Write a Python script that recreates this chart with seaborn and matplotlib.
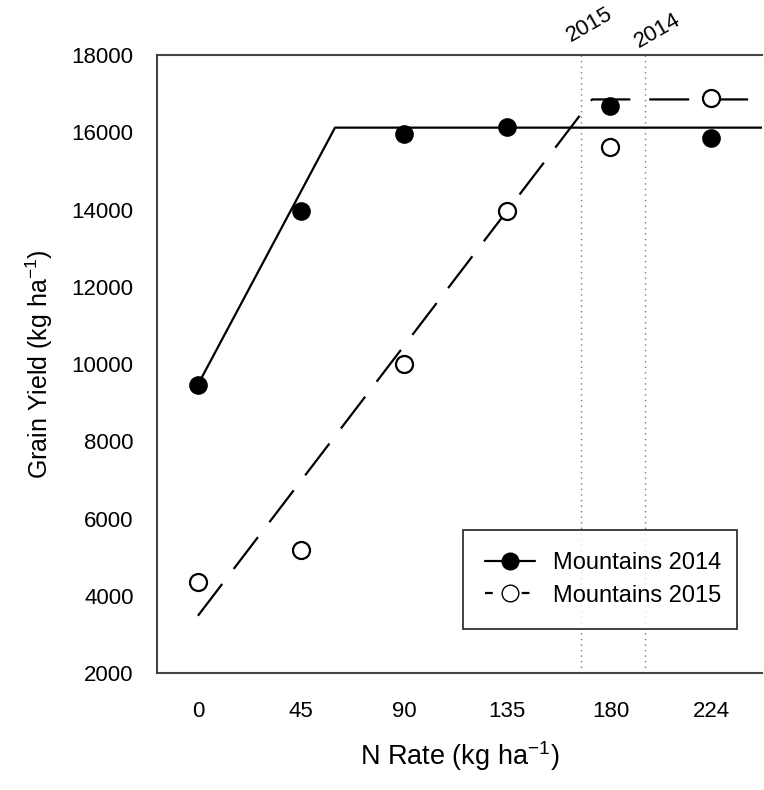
import matplotlib
matplotlib.use("Agg")
import matplotlib.pyplot as plt
import seaborn as sns
import pandas as pd
from matplotlib.lines import Line2D

# ---- data ----
n_rate = [0, 45, 90, 135, 180, 224]
yield_2014 = [9470, 13960, 15950, 16140, 16680, 15850]
yield_2015 = [4360, 5180, 10000, 13970, 15620, 16890]

fit_2014_x = [0, 59.8, 246]
fit_2014_y = [9470, 16120, 16120]
fit_2015_x = [0, 172, 246]
fit_2015_y = [3490, 16850, 16850]

vline_x = [167.3, 195.2]
vline_labels = ["2015", "2014"]

xticks = [0, 45, 90, 135, 180, 224]
yticks = [2000, 4000, 6000, 8000, 10000, 12000, 14000, 16000, 18000]

sns.set_theme(style="white")
plt.rcParams["font.family"] = ["Liberation Sans", "DejaVu Sans"]
plt.rcParams["mathtext.default"] = "regular"
plt.rcParams["text.color"] = "black"
plt.rcParams["axes.labelcolor"] = "black"

fig = plt.figure(figsize=(7.64, 7.90), dpi=100)
ax = fig.add_axes([0.2051, 0.1477, 0.7919, 0.7827])

spine_c = "#444444"

# vertical reference lines
for xv in vline_x:
    ax.axvline(xv, color="#777777", lw=1.0, ls=(0, (1, 3)), zorder=1)

df14 = pd.DataFrame({"x": fit_2014_x, "y": fit_2014_y})
df15 = pd.DataFrame({"x": fit_2015_x, "y": fit_2015_y})
sns.lineplot(data=df14, x="x", y="y", ax=ax, color="black", lw=1.6, zorder=2)
sns.lineplot(data=df15, x="x", y="y", ax=ax, color="black", lw=1.6, zorder=2)
ax.lines[-1].set_dashes((18, 8.5))

pts14 = pd.DataFrame({"x": n_rate, "y": yield_2014})
pts15 = pd.DataFrame({"x": n_rate, "y": yield_2015})
sns.scatterplot(data=pts14, x="x", y="y", ax=ax, s=150, color="black",
                edgecolor="black", linewidth=1.2, zorder=3)
sns.scatterplot(data=pts15, x="x", y="y", ax=ax, s=150, facecolor="white",
                edgecolor="black", linewidth=1.6, zorder=3)

ax.set_xlim(-18, 246)
ax.set_ylim(2000, 18000)
ax.set_xticks(xticks)
ax.set_yticks(yticks)
ax.tick_params(axis="both", labelsize=16, labelcolor="black",
               width=1.2, direction="out", color=spine_c)
ax.tick_params(axis="x", length=6, pad=14)
ax.tick_params(axis="y", length=8.6, pad=8)

for s in ["left", "bottom", "top"]:
    ax.spines[s].set_color(spine_c)
    ax.spines[s].set_linewidth(1.5)
ax.spines["right"].set_visible(False)

ax.set_xlabel("N Rate (kg ha$^{-1}$)", fontsize=19.5, labelpad=12)
ax.set_ylabel("Grain Yield (kg ha$^{-1}$)", fontsize=18, labelpad=12)

# rotated labels for vertical lines
offsets = [(-6, 6), (-3, 2)]
for xv, lab, off in zip(vline_x, vline_labels, offsets):
    ax.annotate(lab, xy=(xv, 1.0), xycoords=("data", "axes fraction"),
                xytext=off, textcoords="offset points", rotation=30,
                rotation_mode="anchor", ha="left", va="bottom", fontsize=16,
                color="black")

handles = [
    Line2D([0], [0], color="black", lw=1.6, marker="o", markersize=12,
           markerfacecolor="black", markeredgecolor="black"),
    Line2D([0], [0], color="black", lw=1.6, marker="o", markersize=12,
           markerfacecolor="white", markeredgecolor="black", dashes=(3.5, 13)),
]
leg = ax.legend(handles, ["Mountains 2014", "Mountains 2015"],
                loc="lower left", bbox_to_anchor=(0.506, 0.0716, 0.453, 0.158),
                mode="expand", fontsize=17, frameon=True, fancybox=False,
                handlelength=2.1, handletextpad=0.75, borderpad=0.95,
                labelspacing=0.45, borderaxespad=0)
leg.get_frame().set_edgecolor("black")
leg.get_frame().set_linewidth(1.3)

fig.savefig("out.png", dpi=100)
